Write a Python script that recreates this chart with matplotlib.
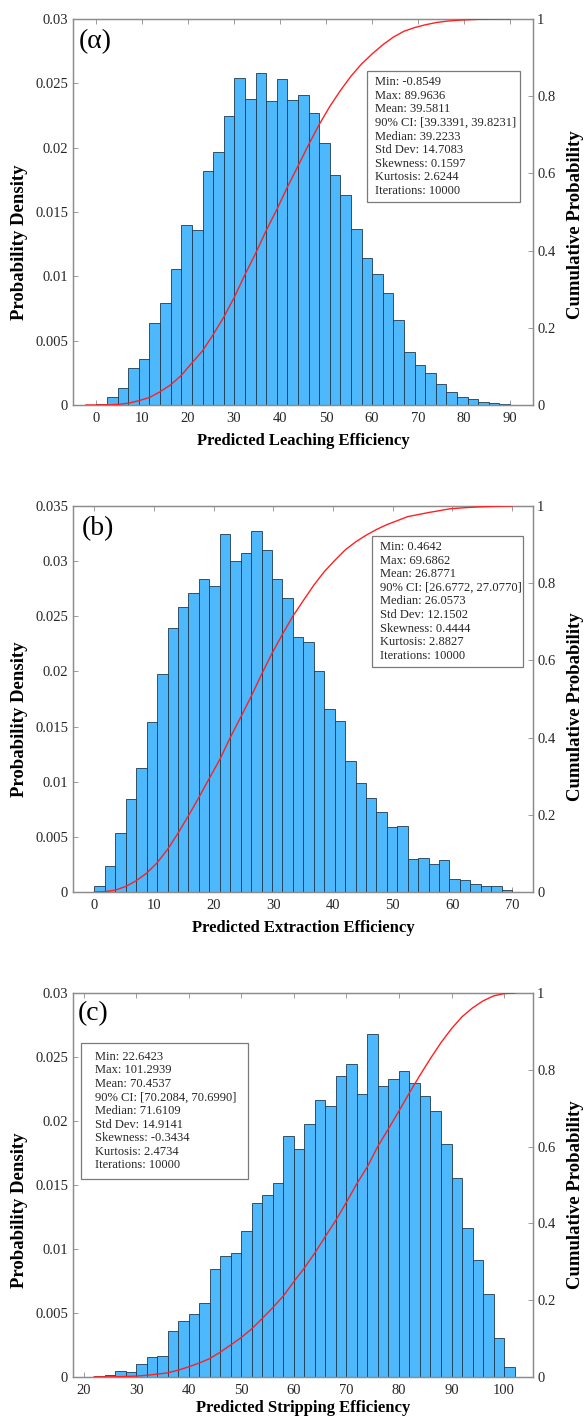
import numpy as np
import matplotlib
matplotlib.use('Agg')
import matplotlib.pyplot as plt
from matplotlib.patches import Rectangle

plt.rcParams['font.family'] = ['Liberation Serif', 'DejaVu Serif']

# ---------------- data ----------------
# panel (a) : Predicted Leaching Efficiency
a_edges_range = (-2.2, 90.0)
a_density = [0.00003, 0.00005, 0.0006, 0.0013, 0.0029, 0.0036, 0.0064, 0.0079, 0.0106, 0.0140,
             0.0136, 0.0182, 0.0197, 0.0225, 0.0254, 0.0238, 0.0258, 0.0236, 0.0253, 0.0237,
             0.0241, 0.0227, 0.0204, 0.0179, 0.0163, 0.0137, 0.0114, 0.0102, 0.0087, 0.0066,
             0.0041, 0.0031, 0.0025, 0.0016, 0.0010, 0.0006, 0.0005, 0.0002, 0.00013, 0.00005]
a_stats = ["Min: -0.8549", "Max: 89.9636", "Mean: 39.5811", "90% CI: [39.3391, 39.8231]",
           "Median: 39.2233", "Std Dev: 14.7083", "Skewness: 0.1597", "Kurtosis: 2.6244",
           "Iterations: 10000"]

# panel (b) : Predicted Extraction Efficiency
b_edges_range = (0.0, 70.0)
b_density = [0.00051, 0.00233, 0.00535, 0.00847, 0.01122, 0.01537, 0.01978, 0.02396, 0.02583, 0.02707,
             0.02834, 0.02777, 0.03246, 0.03004, 0.03070, 0.03276, 0.03101, 0.02834, 0.02668, 0.02314,
             0.02266, 0.02000, 0.01658, 0.01555, 0.01192, 0.00986, 0.00856, 0.00723, 0.00590, 0.00596,
             0.00300, 0.00309, 0.00257, 0.00287, 0.00115, 0.00109, 0.00070, 0.00054, 0.00051, 0.00021]
b_stats = ["Min: 0.4642", "Max: 69.6862", "Mean: 26.8771", "90% CI: [26.6772, 27.0770]",
           "Median: 26.0573", "Std Dev: 12.1502", "Skewness: 0.4444", "Kurtosis: 2.8827",
           "Iterations: 10000"]

# panel (c) : Predicted Stripping Efficiency
c_edges_range = (22.0, 102.0)
c_density = [0.00010, 0.00018, 0.00050, 0.00042, 0.00102, 0.00154, 0.00161, 0.00357, 0.00438, 0.00492,
             0.00581, 0.00846, 0.00943, 0.00969, 0.01141, 0.01357, 0.01419, 0.01516, 0.01885, 0.01781,
             0.01977, 0.02161, 0.02115, 0.02354, 0.02448, 0.02214, 0.02680, 0.02276, 0.02331, 0.02391,
             0.02300, 0.02193, 0.02076, 0.01823, 0.01557, 0.01164, 0.00917, 0.00648, 0.00307, 0.00076]
c_stats = ["Min: 22.6423", "Max: 101.2939", "Mean: 70.4537", "90% CI: [70.2084, 70.6990]",
           "Median: 71.6109", "Std Dev: 14.9141", "Skewness: -0.3434", "Kurtosis: 2.4734",
           "Iterations: 10000"]

panel_labels = ["(\u03b1)", "(b)", "(c)"]
x_labels = ["Predicted Leaching Efficiency", "Predicted Extraction Efficiency",
            "Predicted Stripping Efficiency"]
x_ticks = [list(range(0, 91, 10)), list(range(0, 71, 10)), list(range(20, 101, 10))]
y_ticks = [[0, 0.005, 0.01, 0.015, 0.02, 0.025, 0.03],
           [0, 0.005, 0.01, 0.015, 0.02, 0.025, 0.03, 0.035],
           [0, 0.005, 0.01, 0.015, 0.02, 0.025, 0.03]]
cdf_ticks = [0, 0.2, 0.4, 0.6, 0.8, 1]

# ---------------- layout ----------------
W, H = 584, 1418
fig = plt.figure(figsize=(W / 100, H / 100), dpi=100)

panels = [
    dict(rng=a_edges_range, dens=a_density, stats=a_stats, xlim=(-5, 95), ylim=(0, 0.03),
         box=(367, 520, 71, 202), tx=375, ax_px=(73, 533, 19, 405), lab=(0.012, 0.975),
         xl_off=36, yl_off=30, yr_off=13),
    dict(rng=b_edges_range, dens=b_density, stats=b_stats, xlim=(-3.6, 73.5), ylim=(0, 0.035),
         box=(372, 523, 536, 667), tx=380, ax_px=(73, 533, 506, 892), lab=(0.02, 0.975),
         xl_off=36, yl_off=20, yr_off=8),
    dict(rng=c_edges_range, dens=c_density, stats=c_stats, xlim=(18, 105.5), ylim=(0, 0.03),
         box=(81, 248, 1043, 1179), tx=95, ax_px=(73, 533, 993, 1377), lab=(0.01, 0.98),
         xl_off=31, yl_off=25, yr_off=10),
]

spine_col = '#8c8c8c'
txt_col = '#262626'
bar_col = '#4DB8FB'
edge_col = '#1d3a4f'

for i, p in enumerate(panels):
    x0, x1, yt, yb = p['ax_px']
    ax = fig.add_axes([x0 / W, 1 - yb / H, (x1 - x0) / W, (yb - yt) / H])
    edges = np.linspace(p['rng'][0], p['rng'][1], len(p['dens']) + 1)
    dens = np.array(p['dens'])
    widths = np.diff(edges)
    ax.bar(edges[:-1], dens, width=widths, align='edge', color=bar_col,
           edgecolor=edge_col, linewidth=0.6, zorder=2)
    ax.set_xlim(*p['xlim'])
    ax.set_ylim(*p['ylim'])
    ax.set_xticks(x_ticks[i])
    ax.set_yticks(y_ticks[i])
    ax.set_yticklabels([f"{v:g}" for v in y_ticks[i]])
    ax.tick_params(axis='both', direction='in', length=3.5, width=0.6, colors=spine_col,
                   labelcolor=txt_col, labelsize=10.5, top=True, right=False)
    ax.tick_params(axis='x', pad=5)
    for s in ax.spines.values():
        s.set_color(spine_col)
        s.set_linewidth(0.9)

    ax2 = ax.twinx()
    cdf = np.concatenate([[0], np.cumsum(dens * widths)])
    cdf = cdf / cdf[-1]
    ax2.plot(edges, cdf, color='#ff2020', linewidth=1.0, zorder=3)
    ax2.set_ylim(0, 1)
    ax2.set_yticks(cdf_ticks)
    ax2.set_yticklabels([f"{v:g}" for v in cdf_ticks])
    ax2.tick_params(axis='y', direction='in', length=3.5, width=0.6, colors=spine_col,
                    labelcolor=txt_col, labelsize=10.5, pad=3)
    for s in ax2.spines.values():
        s.set_color(spine_col)
        s.set_linewidth(0.9)

    # stats box
    bl, br, bt, bb = p['box']
    fx = lambda px: (px - x0) / (x1 - x0)
    fy = lambda py: (yb - py) / (yb - yt)
    ax2.add_patch(Rectangle((fx(bl), fy(bb)), fx(br) - fx(bl), fy(bt) - fy(bb),
                            transform=ax2.transAxes, facecolor='white', edgecolor='#7a7a7a',
                            linewidth=0.9, zorder=5))
    ax2.text(fx(p['tx']), (fy(bt) + fy(bb)) / 2, "\n".join(p['stats']), transform=ax2.transAxes,
             ha='left', va='center', fontsize=9, color=txt_col, linespacing=1.18, zorder=6)

    # panel label
    ax2.text(p['lab'][0], p['lab'][1], panel_labels[i], transform=ax2.transAxes,
             ha='left', va='top', fontsize=20, color='black', zorder=6)

    # axis labels
    fig.text((x0 + x1) / 2 / W, 1 - (yb + p['xl_off']) / H, x_labels[i], ha='center', va='center',
             fontsize=12, fontweight='bold', color='black')
    fig.text(20 / W, 1 - ((yt + yb) / 2 + p['yl_off']) / H, "Probability Density", ha='center',
             va='center', rotation=90, fontsize=13.5, fontweight='bold', color='black')
    fig.text(575 / W, 1 - ((yt + yb) / 2 + p['yr_off']) / H, "Cumulative Probability", ha='center',
             va='center', rotation=90, fontsize=13.5, fontweight='bold', color='black')

fig.savefig('out.png', dpi=100, facecolor='white')
